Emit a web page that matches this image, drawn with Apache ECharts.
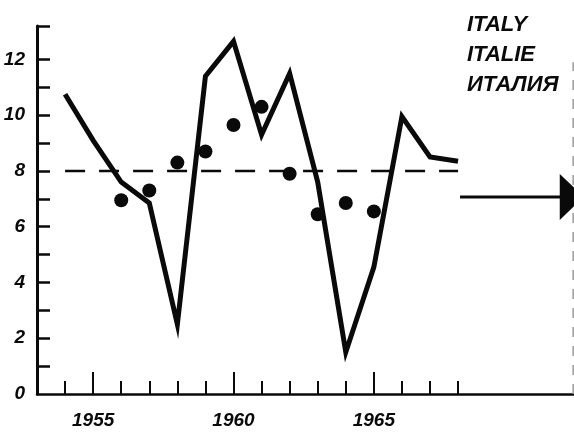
<!DOCTYPE html>
<html>
<head>
<meta charset="utf-8">
<script src="https://cdn.jsdelivr.net/npm/echarts@6/dist/echarts.min.js"></script>
<style>
html,body{margin:0;padding:0;background:#fff;}
#chart{width:574px;height:433px;}
</style>
</head>
<body>
<div id="chart"></div>
<script>
// ---- data ----
var lineYears = [1954,1955,1956,1957,1958,1959,1960,1961,1962,1963,1964,1965,1966,1967,1968];
var lineValues = [10.75,9.1,7.6,6.85,2.5,11.4,12.65,9.3,11.5,7.6,1.5,4.55,9.95,8.5,8.35];
var dotYears = [1956,1957,1958,1959,1960,1961,1962,1963,1964,1965];
var dotValues = [6.95,7.3,8.3,8.7,9.65,10.3,7.9,6.45,6.85,6.55];
var refYears = [1954,1968];
var refValue = 8;
var arrowYears = [1968.07,1972.05];
var arrowValue = 7.07;
var edgeYear = 1972.1;
var edgeValues = [0,11.9];
var xMinorTicks = [1954,1955,1956,1957,1958,1959,1960,1961,1962,1963,1964,1965,1966,1967,1968];
var xMajorTicks = [1955,1960,1965];
var yTicks = [1,2,3,4,5,6,7,8,9,10,11,12,13.2];
var yLabels = [0,2,4,6,8,10,12];
var titleLines = ['ITALY','ITALIE','ИТАЛИЯ'];

var INK = '#0a0a0a';
var FONT = 'Liberation Sans';
var labelStyle = {color: INK, fontFamily: FONT, fontWeight: 'bold', fontStyle: 'italic', fontSize: 19};

function pairs(xs, ys){ return xs.map(function(x,i){ return [x, ys[i]]; }); }

var chart = echarts.init(document.getElementById('chart'), null, {renderer:'canvas'});
var arrowData = pairs(arrowYears, [arrowValue, arrowValue]);
arrowData[1] = {value: arrowData[1], symbol: 'triangle', symbolRotate: -90, symbolSize: [46, 24]};

chart.setOption({
  animation: false,
  backgroundColor: '#fff',
  title: {
    text: titleLines.join('\n'),
    left: 462, top: 5,
    textStyle: {color: INK, fontFamily: FONT, fontWeight: 'bold', fontStyle: 'italic', fontSize: 22, lineHeight: 30}
  },
  grid: {left: 37, right: 0, top: 26, bottom: 39, containLabel: false},
  xAxis: [{
    type: 'value', min: 1953, max: 1972.13, position: 'bottom',
    splitLine: {show: false},
    axisLine: {show: true, onZero: false, lineStyle: {color: INK, width: 2.5}},
    axisTick: {show: true, inside: true, length: 13, customValues: xMinorTicks, lineStyle: {color: INK, width: 2}},
    axisLabel: {show: false}
  }, {
    type: 'value', min: 1953, max: 1972.13, position: 'bottom', offset: 0,
    splitLine: {show: false},
    axisLine: {show: false},
    axisTick: {show: true, inside: true, length: 22, customValues: xMajorTicks, lineStyle: {color: INK, width: 2}},
    axisLabel: Object.assign({show: true, margin: 17, customValues: xMajorTicks, formatter: function(v){ return String(v); }}, labelStyle)
  }],
  yAxis: {
    type: 'value', min: 0, max: 13.2,
    splitLine: {show: false},
    axisLine: {show: true, onZero: false, lineStyle: {color: INK, width: 3}},
    axisTick: {show: true, inside: true, length: 13, customValues: yTicks, lineStyle: {color: INK, width: 2.5}},
    axisLabel: Object.assign({show: true, margin: 12, customValues: yLabels}, labelStyle)
  },
  series: [{
    type: 'line', name: 'edge', xAxisIndex: 0,
    data: pairs([edgeYear, edgeYear], edgeValues),
    symbol: 'none', clip: false,
    lineStyle: {color: '#9a9a9a', width: 1.5, type: [10, 9]}
  }, {
    type: 'line', name: 'ref', xAxisIndex: 0,
    data: pairs(refYears, [refValue, refValue]),
    symbol: 'none',
    lineStyle: {color: INK, width: 2.5, type: [20, 14]}
  }, {
    type: 'line', name: 'italy', xAxisIndex: 0,
    data: pairs(lineYears, lineValues),
    symbol: 'none',
    lineStyle: {color: INK, width: 5, join: 'miter'}
  }, {
    type: 'scatter', name: 'dots', xAxisIndex: 0,
    data: pairs(dotYears, dotValues),
    symbol: 'circle', symbolSize: 14,
    itemStyle: {color: INK, opacity: 1}
  }, {
    type: 'line', name: 'arrow', xAxisIndex: 0,
    data: arrowData,
    symbol: 'none', showSymbol: true, clip: false,
    lineStyle: {color: INK, width: 3},
    itemStyle: {color: INK}
  }]
});
</script>
</body>
</html>
